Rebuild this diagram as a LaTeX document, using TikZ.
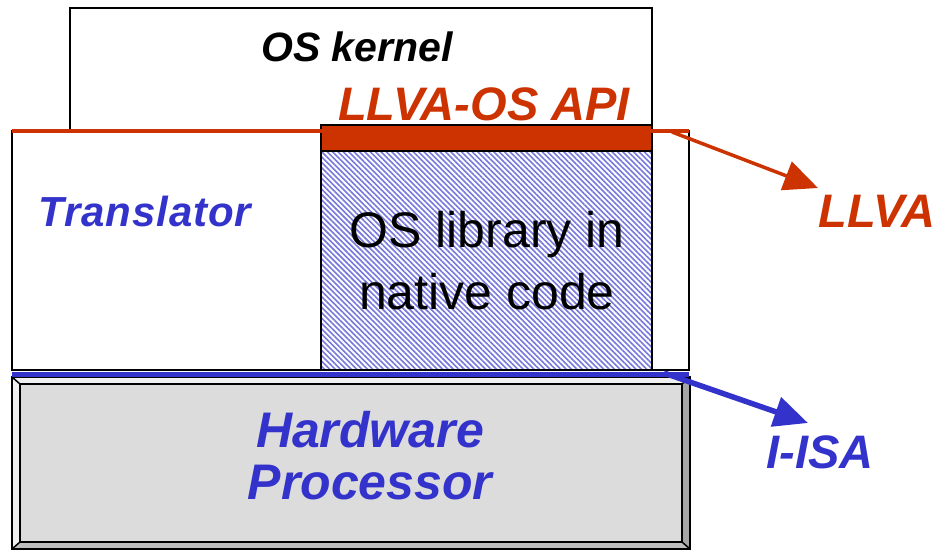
\documentclass[tikz,border=0pt]{standalone}
\usepackage{fontspec}
\setmainfont{Liberation Sans}
\usetikzlibrary{arrows.meta,patterns.meta}

\definecolor{llvared}{HTML}{CC3300}
\definecolor{isablue}{HTML}{3333CC}
\definecolor{hatchblue}{RGB}{120,120,220}
\definecolor{bevlight}{HTML}{F0F0F0}
\definecolor{bevface}{HTML}{DCDCDC}
\definecolor{bevright}{HTML}{A6A6A6}
\definecolor{bevbottom}{HTML}{BEBEBE}

\tikzset{
  layer/.style={draw=black, line width=2pt, anchor=north west, inner sep=0pt, outer sep=0pt},
  bevel/.style={draw=black, line width=1.5pt, line join=miter},
  lbl/.style={inner sep=0pt, font=\fontsize{47}{52}\selectfont\bfseries\itshape},
  iface/.style={line width=#1, -{Triangle[length=34pt,width=30pt]}},
}

\begin{document}
\begin{tikzpicture}[x=1pt, y=-1pt]
\useasboundingbox (0,0) rectangle (940,550);

% OS kernel on top
\node[layer, fill=white, minimum width=582pt, minimum height=123pt] (kernel) at (70,8) {};
% translator layer
\node[layer, fill=white, minimum width=677pt, minimum height=239pt] (transl) at (12,131) {};
% OS library in native code (hatched)
\node[layer, fill=white, minimum width=331pt, minimum height=219pt] (oslibbg) at (321,151) {};
\node[layer, pattern={Lines[angle=-45, distance=3.8pt, line width=1.6pt]}, pattern color=hatchblue,
      minimum width=331pt, minimum height=219pt] (oslib) at (321,151) {};
% LLVA-OS API bar
\node[layer, fill=llvared, minimum width=331pt, minimum height=26pt] (api) at (321,125) {};

% hardware processor, bevelled block
\coordinate (o1) at (12,377);  \coordinate (o2) at (690,377);
\coordinate (o3) at (690,549); \coordinate (o4) at (12,549);
\node[draw=black, line width=1.5pt, fill=bevface, anchor=north west, inner sep=0pt, outer sep=0pt,
      minimum width=662pt, minimum height=158pt] (hw) at (20,384) {};
\fill[bevlight] (o1) -- (o2) -- (hw.north east) -- (hw.north west) -- cycle;
\fill[bevlight] (o1) -- (hw.north west) -- (hw.south west) -- (o4) -- cycle;
\fill[bevright] (o2) -- (o3) -- (hw.south east) -- (hw.north east) -- cycle;
\fill[bevbottom] (o4) -- (o3) -- (hw.south east) -- (hw.south west) -- cycle;
\draw[bevel] (o1) -- (o2) -- (o3) -- (o4) -- cycle;
\draw[bevel] (hw.north west) rectangle (hw.south east);
\draw[bevel] (o1) -- (hw.north west) (o2) -- (hw.north east)
             (o3) -- (hw.south east) (o4) -- (hw.south west);

% interface lines
\draw[llvared, line width=3.5pt] (transl.north west) -- (transl.north east);
\draw[isablue, line width=5pt] ([yshift=-4pt]transl.south west) -- ([yshift=-4pt]transl.south east);

% arrows to the interface labels
\coordinate (llvaFrom) at (672,132);
\coordinate (llvaTip) at (818,188);
\coordinate (isaFrom) at (664,373);
\coordinate (isaTip) at (808,423);
\draw[iface=3.5pt, llvared] (llvaFrom) -- (llvaTip);
\draw[iface=5.5pt, isablue] (isaFrom) -- (isaTip);

% labels
\node[lbl, font=\fontsize{41}{48}\selectfont\bfseries\itshape, anchor=base] (tkernel) at (357,61) {OS kernel};
\node[lbl, text=llvared, anchor=base] (tapi) at (484,120) {LLVA-OS API};
\node[lbl, text=isablue, anchor=base,
      font=\fontsize{42}{48}\selectfont\bfseries\itshape\addfontfeature{LetterSpace=2}] (ttransl) at (145,226) {Translator};
\node[inner sep=0pt, align=center, font=\fontsize{50}{62}\selectfont] (tlib) at (487,261) {OS library in\\native code};
\node[lbl, text=isablue, align=center, font=\fontsize{50}{52}\selectfont\bfseries\itshape] (thw) at (370,456) {Hardware\\Processor};
\node[lbl, text=llvared, anchor=base] (tllva) at (877,227) {LLVA};
\node[lbl, text=isablue, anchor=base] (tisa) at (820,468) {I-ISA};
\end{tikzpicture}
\end{document}
